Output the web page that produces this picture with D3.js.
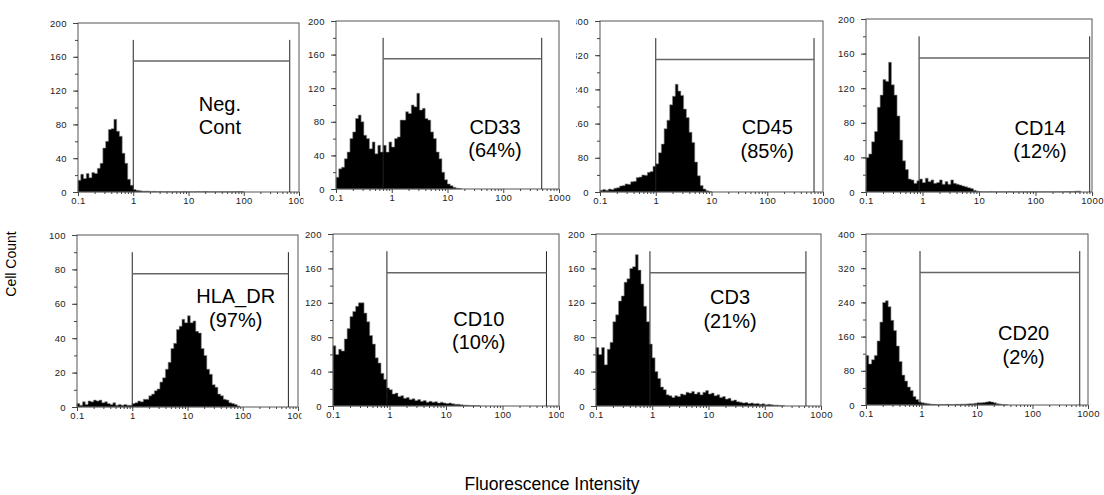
<!DOCTYPE html>
<html>
<head>
<meta charset="utf-8">
<script src="https://cdn.jsdelivr.net/npm/d3@7/dist/d3.min.js"></script>
<style>
  body { margin: 0; background: #fff; }
  svg { display: block; font-family: "Liberation Sans", Arial, sans-serif; }
</style>
</head>
<body>
<div id="chart"></div>
<script>
// counts per bin, 20 bins per decade starting at 0.1
const negCont = [14, 21, 16, 22, 17, 23, 22, 28, 34, 52, 60, 74, 75, 86, 72, 66, 46, 34, 15, 8, 3, 2, 1.5, 1, 1, 1, 0.5, 0.8, 0.5, 0.5, 0.5, 0.3, 0.5, 0.3, 0.3, 0.5, 0.3, 0.3, 0.5, 0.3, 0.3, 0.3, 0.3, 0.5, 0.3, 0.5, 0.5, 0.3, 0.3, 0.3, 0.3, 0.3, 0.3, 0.3, 0.3, 0.3, 0.3, 0.5, 0.5, 0.5];
const cd33 = [14, 24, 26, 36, 44, 60, 68, 84, 88, 80, 64, 60, 48, 56, 42, 52, 44, 52, 44, 56, 50, 60, 62, 82, 82, 92, 90, 100, 98, 114, 94, 96, 84, 82, 68, 60, 44, 36, 20, 11, 6, 4, 2, 1, 0.5];
const cd45 = [4, 6, 4, 7, 6, 9, 10, 14, 15, 19, 18, 24, 25, 34, 35, 40, 39, 46, 48, 60, 66, 92, 112, 148, 168, 204, 224, 252, 236, 226, 194, 174, 140, 116, 70, 38, 15, 7, 3, 1];
const cd14 = [40, 44, 58, 70, 98, 112, 130, 128, 150, 124, 112, 88, 60, 36, 26, 15, 14, 10, 13, 15, 11, 16, 12, 14, 10, 11, 14, 9, 12, 9, 14, 10, 9, 8, 7, 6, 5, 4, 2, 1, 0.5, 0.3, 0.3, 0.3, 0.5, 0.3, 0.3, 0.3, 0.3, 0.3, 0.5, 0.3, 0.3, 0.3, 0.3, 0.3, 0.3, 0.3, 0.3, 0.3, 0.3, 0.3, 0.3, 0.3, 0.3, 0.3, 0.3, 0.3, 0.3, 0.3, 0.5, 0.5, 0.5, 0.5, 1, 1];
const hlaDr = [2, 1, 3, 1.5, 3.5, 3, 4, 3.5, 4, 2.5, 3, 2, 1.5, 2.5, 1, 1.5, 1, 1.5, 1, 1, 2, 2.5, 3.5, 3, 4.5, 4.5, 6.5, 7.5, 9.5, 10.5, 14.5, 17, 22, 26, 34, 37, 45, 47, 51, 49, 53, 49, 50, 44, 43, 34, 30, 22, 19, 13, 11.5, 7.5, 6.5, 4.5, 4, 2.5, 2, 1.5, 0.6];
const cd10 = [70, 60, 66, 64, 78, 90, 104, 110, 116, 120, 120, 108, 98, 82, 72, 56, 50, 38, 31, 21, 19, 14, 15, 11, 12, 9, 10, 7.5, 8.5, 6.5, 7.5, 5.5, 6.5, 4.5, 5.5, 4.5, 5, 3.5, 4.5, 3.5, 3, 3.5, 2.5, 2, 2, 1.5, 1, 1, 0.7, 0.5, 0.4, 0.3];
const cd3 = [68, 60, 68, 48, 66, 74, 98, 106, 122, 128, 144, 148, 160, 162, 176, 158, 142, 116, 98, 72, 56, 40, 32, 22, 19, 13, 12, 10, 12, 11, 14, 13, 16, 15, 17, 14, 16, 13, 16, 18, 14, 15, 12, 13, 10, 11, 8, 9, 6, 7, 5, 4.5, 3.5, 4, 3, 3.5, 2.5, 3, 2, 2.5, 1.5, 2, 1.5, 1, 1, 0.6, 0.4];
const cd20 = [116, 96, 106, 116, 150, 194, 240, 244, 230, 198, 174, 138, 102, 70, 56, 42, 34, 20, 13, 7, 5, 4, 3, 2, 1.5, 1, 1, 1, 1, 1.5, 1, 1, 1.5, 1.5, 2, 2, 2.5, 3, 3, 4, 5, 5, 6, 7, 8, 7, 5, 3, 2, 1, 0.5];

const series = [negCont, cd33, cd45, cd14, hlaDr, cd10, cd3, cd20];
const markerLines = [["Neg.", "Cont"], ["CD33", "(64%)"], ["CD45", "(85%)"], ["CD14", "(12%)"],
                     ["HLA_DR", "(97%)"], ["CD10", "(10%)"], ["CD3", "(21%)"], ["CD20", "(2%)"]];
const yMax = [200, 200, 400, 200, 100, 200, 200, 400];
const gateLow = [1, 0.7, 1, 0.87, 1, 0.9, 0.91, 0.94];
const gateHigh = [680, 490, 690, 910, 670, 600, 540, 710];
const xTickValues = [0.1, 1, 10, 100, 1000];
const xTickLabels = ["0.1", "1", "10", "100", "1000"];

const binsPerDecade = 20;

// panel frames on the page (plot box) and the visible strip of each panel image
const frames = [
  { l: 78, r: 299, t: 23, b: 192, c0: 0, c1: 303.5 },
  { l: 336, r: 559, t: 21, b: 189, c0: 303.5, c1: 576 },
  { l: 600, r: 823, t: 21, b: 192, c0: 576, c1: 836 },
  { l: 866, r: 1092, t: 19, b: 192, c0: 836, c1: 1104 },
  { l: 77, r: 298, t: 235, b: 407, c0: 0, c1: 301.5 },
  { l: 333, r: 559, t: 234, b: 406, c0: 301.5, c1: 564 },
  { l: 596, r: 821, t: 234, b: 406, c0: 564, c1: 836 },
  { l: 866, r: 1088, t: 234, b: 405, c0: 836, c1: 1104 }
];
// label anchor as fraction of plot box (x centre, first baseline)
const labelPos = [[0.642, 0.52], [0.713, 0.672], [0.75, 0.663], [0.77, 0.669],
                  [0.718, 0.398], [0.645, 0.533], [0.596, 0.407], [0.71, 0.62]];

const W = 1104, H = 495;
const svg = d3.select("#chart").append("svg")
  .attr("width", W)
  .attr("height", H);

const minorX = [];
[0.1, 1, 10, 100].forEach(d => { for (let k = 2; k <= 9; k++) minorX.push(d * k); });

series.forEach((counts, p) => {
  const f = frames[p];
  const rowTop = p < 4 ? 0 : 220;

  svg.append("clipPath").attr("id", "clip" + p)
    .append("rect")
    .attr("x", f.c0).attr("y", rowTop)
    .attr("width", f.c1 - f.c0).attr("height", 220);

  const g = svg.append("g").attr("clip-path", `url(#clip${p})`);

  const x = d3.scaleLog().domain([0.1, 1000]).range([f.l, f.r]);
  const y = d3.scaleLinear().domain([0, yMax[p]]).range([f.b, f.t]);
  const majorY = d3.range(0, 6).map(k => k * yMax[p] / 5);
  const minorY = d3.range(0, 11).map(k => k * yMax[p] / 10);

  // histogram as a stepped area
  const pts = counts.map((c, i) => ({ e: Math.pow(10, -1 + i / binsPerDecade), c: c }));
  pts.push({ e: Math.pow(10, -1 + counts.length / binsPerDecade), c: counts[counts.length - 1] });
  g.append("path")
    .datum(pts)
    .attr("fill", "#000")
    .attr("stroke", "#8a8a8a")
    .attr("stroke-width", 0.6)
    .attr("d", d3.area()
      .x(d => x(d.e))
      .y0(y(0))
      .y1(d => y(d.c))
      .curve(d3.curveStepAfter));

  // frame
  g.append("rect")
    .attr("x", f.l).attr("y", f.t)
    .attr("width", f.r - f.l).attr("height", f.b - f.t)
    .attr("fill", "none")
    .attr("stroke", "#555")
    .attr("stroke-width", 1);

  // y axis, major + minor
  g.append("g")
    .attr("transform", `translate(${f.l},0)`)
    .call(d3.axisLeft(y).tickValues(majorY).tickSize(5).tickPadding(6).tickFormat(d3.format("d")));
  g.append("g")
    .attr("transform", `translate(${f.l},0)`)
    .call(d3.axisLeft(y).tickValues(minorY).tickSize(3).tickFormat(""));

  // x axis, decades + minor
  g.append("g")
    .attr("transform", `translate(0,${f.b})`)
    .call(d3.axisBottom(x).tickValues(xTickValues).tickSize(4).tickPadding(1)
      .tickFormat((d, i) => xTickLabels[i]));
  g.append("g")
    .attr("transform", `translate(0,${f.b})`)
    .call(d3.axisBottom(x).tickValues(minorX).tickSize(2).tickFormat(""));

  g.selectAll(".domain").remove();
  g.selectAll(".tick line").attr("stroke", "#444");
  g.selectAll(".tick text")
    .attr("fill", "#222")
    .style("font-size", "9.5px")
    .style("letter-spacing", "0.4px");

  // gate
  const gx0 = x(gateLow[p]), gx1 = x(gateHigh[p]);
  [gx0, gx1].forEach(gx => {
    g.append("line")
      .attr("x1", gx).attr("x2", gx)
      .attr("y1", y(0)).attr("y2", y(yMax[p] * 0.9))
      .attr("stroke", "#222")
      .attr("stroke-width", 1);
  });
  g.append("line")
    .attr("x1", gx0).attr("x2", gx1)
    .attr("y1", y(yMax[p] * 0.775)).attr("y2", y(yMax[p] * 0.775))
    .attr("stroke", "#666")
    .attr("stroke-width", 1.4);

  // marker label
  const lx = f.l + labelPos[p][0] * (f.r - f.l);
  const ly = f.t + labelPos[p][1] * (f.b - f.t);
  markerLines[p].forEach((t, k) => {
    g.append("text")
      .attr("x", lx)
      .attr("y", ly + k * 23.5)
      .attr("text-anchor", "middle")
      .style("font-size", "20px")
      .attr("fill", "#000")
      .text(t);
  });
});

svg.append("text")
  .attr("transform", "translate(16,264) rotate(-90)")
  .attr("text-anchor", "middle")
  .style("font-size", "14px")
  .text("Cell Count");

svg.append("text")
  .attr("x", 552)
  .attr("y", 490)
  .attr("text-anchor", "middle")
  .style("font-size", "17.5px")
  .text("Fluorescence Intensity");
</script>
</body>
</html>
